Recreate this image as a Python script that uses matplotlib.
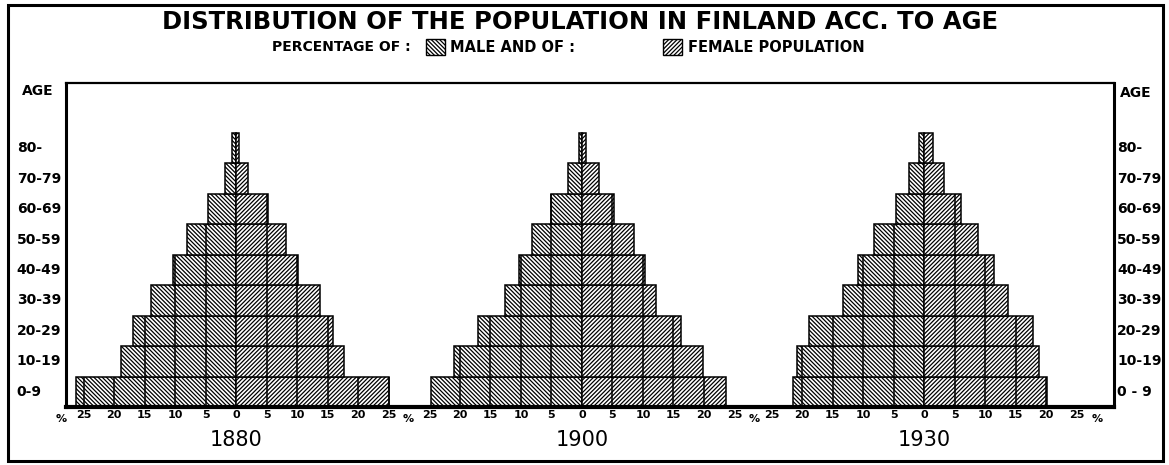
import matplotlib.pyplot as plt
from matplotlib.patches import Rectangle

ages = ['0-9', '10-19', '20-29', '30-39', '40-49', '50-59', '60-69', '70-79', '80-']
ages_right = ['0 - 9', '10-19', '20-29', '30-39', '40-49', '50-59', '60-69', '70-79', '80-']
years = ['1880', '1900', '1930']

male_1880 = [26.2, 18.9, 16.9, 13.9, 10.3, 8.0, 4.6, 1.8, 0.6]
female_1880 = [25.1, 17.7, 15.9, 13.8, 10.2, 8.2, 5.2, 2.0, 0.5]
male_1900 = [24.8, 21.0, 17.0, 12.6, 10.3, 8.2, 5.1, 2.3, 0.5]
female_1900 = [23.6, 19.8, 16.2, 12.1, 10.3, 8.5, 5.2, 2.8, 0.7]
male_1930 = [21.5, 20.8, 18.9, 13.3, 10.8, 8.2, 4.6, 2.5, 0.8]
female_1930 = [20.2, 18.9, 17.9, 13.8, 11.5, 8.9, 6.1, 3.3, 1.5]

tick_values = [25, 20, 15, 10, 5, 0, 5, 10, 15, 20, 25]

male = [male_1880, male_1900, male_1930]
female = [female_1880, female_1900, female_1930]

# where each pyramid sits along the shared x axis (in percent units)
offsets = [0, 56.7, 112.8]

MALE_HATCH = '\\' * 8
FEMALE_HATCH = '/' * 8

plt.rcParams['font.family'] = 'DejaVu Sans'
plt.rcParams['hatch.linewidth'] = 0.9

W, H = 1169, 465
fig = plt.figure(figsize=(W / 100, H / 100), dpi=100)
ax = fig.add_axes([66 / W, 1 - 407 / H, (1114 - 66) / W, (407 - 83) / H])


def draw_side(values, center, sign, hatch):
    for i, v in enumerate(values):
        ax.barh(i, sign * v, left=center, height=1, color='white',
                edgecolor='black', linewidth=1.1, hatch=hatch)
        k = 5
        while k < v:
            ax.vlines(center + sign * k, i - 0.5, i + 0.5,
                      color='black', linewidth=1.1)
            k += 5


for m, f, off in zip(male, female, offsets):
    draw_side(m, off, -1, MALE_HATCH)
    draw_side(f, off, 1, FEMALE_HATCH)

ax.set_xlim(-27.87, 143.93)
ax.set_ylim(-0.5, 10.14)

# bottom scale
xt, xl = [], []
for off in offsets:
    for j, t in enumerate(tick_values):
        xt.append(off + (t if j >= 5 else -t))
        xl.append(str(t))
ax.set_xticks(xt)
ax.set_xticklabels(xl, fontsize=8, fontweight='bold')
ax.tick_params(axis='x', length=0, pad=2)
ax.set_xticks([off + s * 25 for off in offsets for s in (-1, 1)], minor=True)
ax.tick_params(axis='x', which='minor', direction='in', length=5, width=1)
ax.set_yticks([])

trans = ax.get_xaxis_transform()
for x in [-28.6] + [off + 28.3 for off in offsets]:
    ax.text(x, -0.022, '%', transform=trans, ha='center', va='top',
            fontsize=8, fontweight='bold')

for off, yr in zip(offsets, years):
    ax.text(off, -0.072, yr, transform=trans, ha='center', va='top',
            fontsize=15)

# age labels on both sides
ytrans = ax.get_yaxis_transform()
for i, (a, b) in enumerate(zip(ages, ages_right)):
    ax.text(-0.047, i, a, transform=ytrans, ha='left', va='center',
            fontsize=10, fontweight='bold')
    ax.text(1.003, i, b, transform=ytrans, ha='left', va='center',
            fontsize=10, fontweight='bold')
ax.text(-0.042, 0.975, 'AGE', transform=ax.transAxes, ha='left', va='center',
        fontsize=10, fontweight='bold')
ax.text(1.006, 0.97, 'AGE', transform=ax.transAxes, ha='left', va='center',
        fontsize=10, fontweight='bold')

ax.spines['bottom'].set_linewidth(3)
ax.spines['left'].set_linewidth(2.2)
ax.spines['right'].set_linewidth(2.2)
ax.spines['top'].set_linewidth(1.6)

# title and key
fig.text(580 / W, 1 - 22 / H, 'DISTRIBUTION OF THE POPULATION IN FINLAND ACC. TO AGE',
         ha='center', va='center', fontsize=17.5, fontweight='bold')
fig.text(272 / W, 1 - 47 / H, 'PERCENTAGE OF :', ha='left', va='center',
         fontsize=10, fontweight='bold')
fig.text(450 / W, 1 - 47 / H, 'MALE AND OF :', ha='left', va='center',
         fontsize=10.5, fontweight='bold')
fig.text(688 / W, 1 - 47 / H, 'FEMALE POPULATION', ha='left', va='center',
         fontsize=10.5, fontweight='bold')
for x0, h in [(426, MALE_HATCH), (663, FEMALE_HATCH)]:
    fig.add_artist(Rectangle((x0 / W, 1 - 55 / H), 19 / W, 16 / H,
                             transform=fig.transFigure, facecolor='white',
                             edgecolor='black', linewidth=1, hatch=h))

# outer frame
fig.add_artist(Rectangle((8 / W, 1 - 461 / H), 1155 / W, 456 / H,
                         transform=fig.transFigure, fill=False,
                         edgecolor='black', linewidth=2.2))

plt.savefig('out.png', dpi=100)
